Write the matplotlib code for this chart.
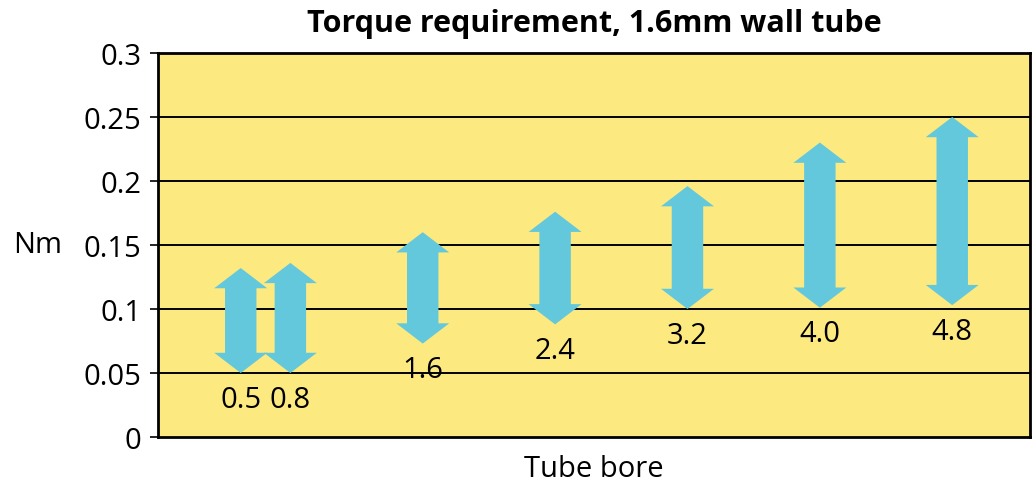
import matplotlib
matplotlib.use("Agg")
import matplotlib.pyplot as plt
from matplotlib.patches import Polygon

# Data
bores = [0.5, 0.8, 1.6, 2.4, 3.2, 4.0, 4.8]
bore_labels = ["0.5", "0.8", "1.6", "2.4", "3.2", "4.0", "4.8"]
torque_low = [0.050, 0.050, 0.073, 0.088, 0.100, 0.101, 0.103]
torque_high = [0.132, 0.136, 0.160, 0.176, 0.196, 0.230, 0.250]
y_ticks = [0, 0.05, 0.1, 0.15, 0.2, 0.25, 0.3]
y_tick_labels = ["0", "0.05", "0.1", "0.15", "0.2", "0.25", "0.3"]

YELLOW = "#FCE97F"
BLUE = "#63C8DC"
plt.rcParams['font.family'] = ['Open Sans', 'DejaVu Sans']
FS = 21

fig = plt.figure(figsize=(10.36, 4.85), dpi=100)
ax = fig.add_axes([0.1525, 0.0969, 0.8417, 0.7918])
ax.set_facecolor(YELLOW)
ax.set_xlim(0, 5.27)
ax.set_ylim(0, 0.3)

for y in y_ticks[1:-1]:
    ax.axhline(y, color="black", lw=1.4, zorder=1)

shaft_w = 0.19
head_w = 0.32
head_l = 0.0158


def double_arrow(x, lo, hi):
    s, h = shaft_w / 2, head_w / 2
    verts = [
        (x, hi), (x + h, hi - head_l), (x + s, hi - head_l),
        (x + s, lo + head_l), (x + h, lo + head_l), (x, lo),
        (x - h, lo + head_l), (x - s, lo + head_l), (x - s, hi - head_l),
        (x - h, hi - head_l),
    ]
    return Polygon(verts, closed=True, facecolor=BLUE, edgecolor="none", zorder=2)


for x, lo, hi, lab in zip(bores, torque_low, torque_high, bore_labels):
    ax.add_patch(double_arrow(x, lo, hi))
    ax.text(x, lo - 0.009, lab, ha="center", va="top", fontsize=FS, zorder=3)

ax.set_yticks(y_ticks)
ax.set_yticklabels(y_tick_labels, fontsize=FS)
ax.set_xticks([])
ax.tick_params(axis="y", length=6, width=1.2, pad=6)
for sp in ax.spines.values():
    sp.set_linewidth(2)

ax.set_ylabel("Nm", rotation=0, fontsize=FS, va="center", ha="center")
ax.yaxis.set_label_coords(-0.138, 0.5)
ax.set_xlabel("Tube bore", fontsize=FS, labelpad=12)
ax.set_title("Torque requirement, 1.6mm wall tube", fontsize=22, fontweight="bold", pad=16)

fig.savefig("out.png", dpi=100)
